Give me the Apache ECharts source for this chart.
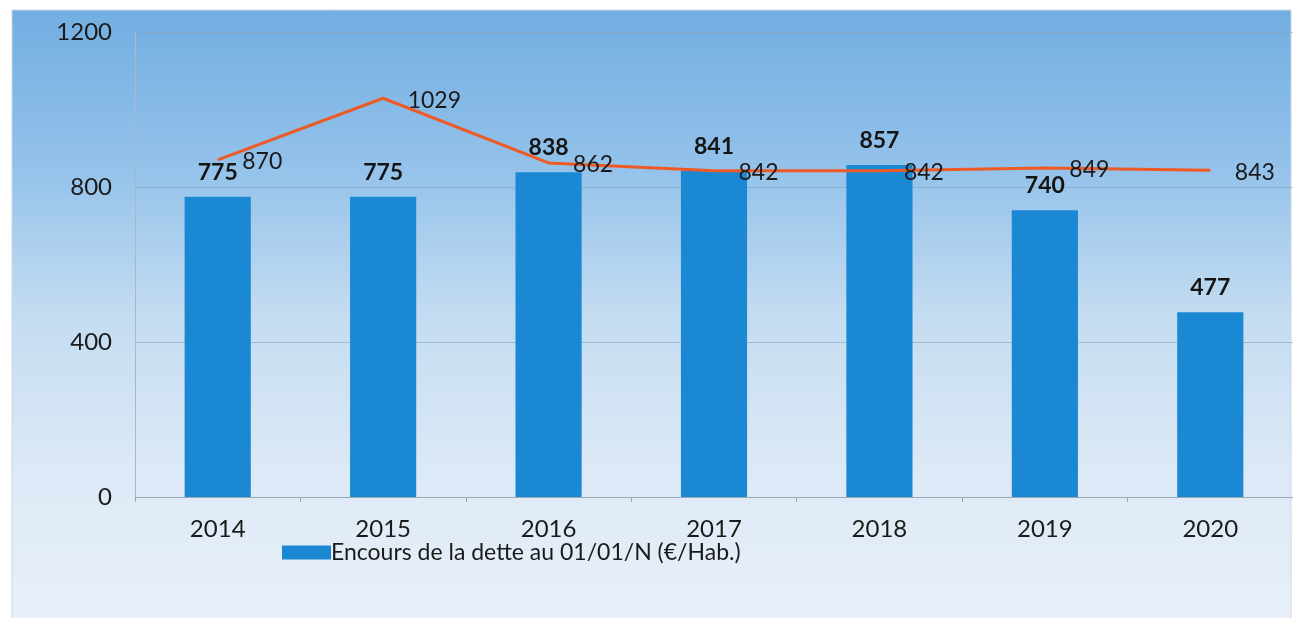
<!DOCTYPE html>
<html>
<head>
<meta charset="utf-8">
<script src="https://cdn.jsdelivr.net/npm/echarts@6/dist/echarts.min.js"></script>
<style>
html,body{margin:0;padding:0;background:#fff;}
#chart{width:1293px;height:618px;}
</style>
</head>
<body>
<div id="chart"></div>
<script>
var categories = ['2014','2015','2016','2017','2018','2019','2020'];
var debtPerHab = [775, 775, 838, 841, 857, 740, 477];
var lineValues = [870, 1029, 862, 842, 842, 849, 843];
var yTicks = {min: 0, max: 1200, interval: 400};
var barName = 'Encours de la dette au 01/01/N (€/Hab.)';

var FONT = 'Lato';
var chart = echarts.init(document.getElementById('chart'));
chart.setOption({
  animation: false,
  backgroundColor: '#ffffff',
  graphic: [{
    type: 'rect',
    z: -10,
    shape: {x: 12, y: 10, width: 1279, height: 612},
    style: {
      fill: new echarts.graphic.LinearGradient(0, 0, 0, 1, [
        {offset: 0, color: '#72aee1'},
        {offset: 0.25, color: '#92c1ea'},
        {offset: 0.5, color: '#c4dcf1'},
        {offset: 0.75, color: '#dce9f6'},
        {offset: 1, color: '#e9f0f9'}
      ]),
      stroke: '#c8d6e4',
      lineWidth: 1
    }
  }],
  grid: {left: 135, right: 0, top: 32, bottom: 121},
  legend: {
    data: [{name: barName, icon: 'rect'}],
    left: 277,
    top: 536,
    itemWidth: 49,
    itemHeight: 14,
    textStyle: {fontFamily: FONT, fontSize: 23, color: '#1a1a1a', padding: [0,0,0,-5]}
  },
  xAxis: {
    type: 'category',
    data: categories,
    boundaryGap: true,
    axisLine: {show: true, lineStyle: {color: '#9aa8b6', width: 1}},
    axisTick: {show: true, length: 5, lineStyle: {color: '#9aa8b6'}},
    axisLabel: {fontFamily: FONT, fontSize: 24, color: '#1a1a1a', margin: 20}
  },
  yAxis: {
    type: 'value',
    min: yTicks.min,
    max: yTicks.max,
    interval: yTicks.interval,
    axisLine: {show: true, lineStyle: {color: '#a9b8c6', width: 1}},
    axisTick: {show: false},
    splitLine: {show: true, lineStyle: {color: 'rgba(140,160,180,0.6)', width: 1}},
    axisLabel: {fontFamily: FONT, fontSize: 24, color: '#1a1a1a', margin: 23,
      formatter: function (v) { return String(v); }}
  },
  series: [{
    name: barName,
    type: 'bar',
    data: debtPerHab,
    barWidth: '40%',
    itemStyle: {color: '#1b88d4'},
    label: {
      show: true,
      position: 'top',
      distance: 13,
      fontFamily: FONT,
      fontSize: 23,
      fontWeight: 'bold',
      color: '#141414'
    }
  }, {
    name: 'ligne',
    type: 'line',
    data: lineValues,
    showSymbol: true,
    symbol: 'circle',
    symbolSize: 1,
    itemStyle: {color: 'rgba(0,0,0,0)'},
    lineStyle: {color: '#ee5a26', width: 3},
    z: 5,
    label: {
      show: true,
      position: 'right',
      distance: 24,
      offset: [0, 2],
      fontFamily: FONT,
      fontSize: 23,
      color: '#1a1a1a'
    }
  }]
});
</script>
</body>
</html>
